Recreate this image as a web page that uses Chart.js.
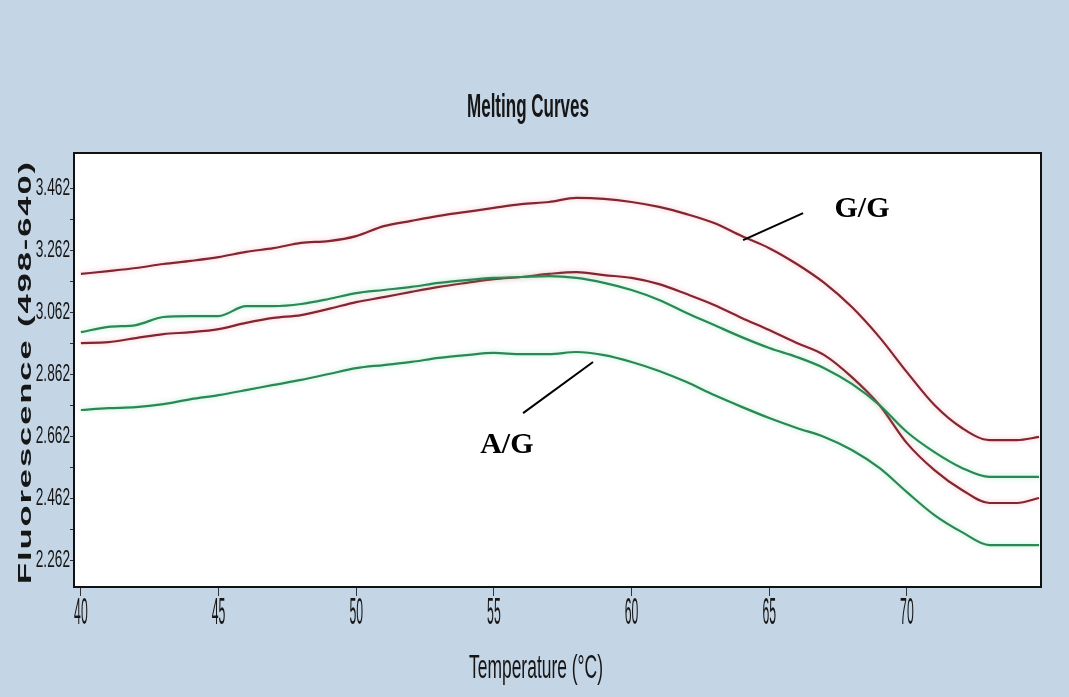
<!DOCTYPE html>
<html>
<head>
<meta charset="utf-8">
<title>Melting Curves</title>
<script src="https://cdn.jsdelivr.net/npm/chart.js@4.4.1/dist/chart.umd.min.js"></script>
<style>
  html, body { margin: 0; padding: 0; background: #c4d5e6; }
  #chart { display: block; }
</style>
</head>
<body>
<canvas id="chart" width="1069" height="697"></canvas>
<script>
/* ============================================================
   Melting curves — two G/G (red) and two A/G (green) traces.
   Labels are drawn squeezed, like the instrument's narrow font.
   ============================================================ */

// temperature (°C) each value was read at
const temps = [40, 41, 42, 43, 44, 45, 46, 47, 48, 49, 50, 51, 52, 53, 54, 55, 56, 57,
  58, 59, 60, 61, 62, 63, 64, 65, 66, 67, 68, 69, 70, 71, 72, 73, 74, 74.8];

const ggHigh = [3.185, 3.194, 3.204, 3.217, 3.227, 3.239, 3.256, 3.268, 3.285, 3.291, 3.307, 3.339,
  3.356, 3.372, 3.385, 3.398, 3.410, 3.417, 3.430, 3.427, 3.417, 3.401, 3.378, 3.349, 3.307, 3.268,
  3.217, 3.156, 3.078, 2.981, 2.868, 2.762, 2.688, 2.649, 2.649, 2.659];
const agHigh = [2.997, 3.014, 3.020, 3.046, 3.049, 3.049, 3.081, 3.081, 3.088, 3.104, 3.123, 3.133,
  3.143, 3.156, 3.165, 3.172, 3.175, 3.178, 3.172, 3.156, 3.133, 3.101, 3.059, 3.020, 2.981, 2.946,
  2.917, 2.881, 2.830, 2.762, 2.675, 2.610, 2.559, 2.530, 2.530, 2.530];
const ggLow = [2.962, 2.965, 2.978, 2.991, 2.997, 3.007, 3.027, 3.043, 3.052, 3.072, 3.094, 3.110,
  3.127, 3.143, 3.156, 3.168, 3.175, 3.185, 3.191, 3.181, 3.172, 3.152, 3.120, 3.085, 3.043, 3.004,
  2.962, 2.923, 2.852, 2.762, 2.639, 2.552, 2.488, 2.446, 2.446, 2.462];
const agLow = [2.746, 2.752, 2.755, 2.765, 2.781, 2.794, 2.810, 2.827, 2.843, 2.862, 2.881, 2.891,
  2.901, 2.914, 2.923, 2.930, 2.926, 2.926, 2.933, 2.923, 2.901, 2.872, 2.836, 2.794, 2.756, 2.720,
  2.688, 2.659, 2.617, 2.559, 2.481, 2.407, 2.352, 2.310, 2.310, 2.310];

const xTicks = [40, 45, 50, 55, 60, 65, 70];
const yTicks = [2.262, 2.462, 2.662, 2.862, 3.062, 3.262, 3.462];

// genotype call-outs, in data units: label centre, pointer start, pointer end
const callouts = [
  { text: 'G/G', at: [68.37, 3.394], from: [64.05, 3.294], to: [66.23, 3.381] },
  { text: 'A/G', at: [55.47, 2.633], from: [56.06, 2.736], to: [58.60, 2.901] },
];

const RED = '#82262f';
const GREEN = '#2b8753';
const BG = '#c4d5e6';
const INK = '#161616';

function series(values) {
  return values.map((v, i) => ({ x: temps[i], y: v }));
}

function lineSet(label, values, color, glow) {
  return {
    label: label,
    data: series(values),
    borderColor: color,
    backgroundColor: color,
    borderWidth: 2.2,
    pointRadius: 0,
    cubicInterpolationMode: 'monotone',
    glow: glow,
  };
}

/** fillText with a horizontal squeeze factor. */
function squeezed(ctx, text, x, y, font, sx, align, baseline) {
  ctx.save();
  ctx.font = font;
  ctx.fillStyle = INK;
  ctx.textAlign = align;
  ctx.textBaseline = baseline || 'alphabetic';
  ctx.translate(x, y);
  ctx.scale(sx, 1);
  ctx.fillText(text, 0, 0);
  ctx.restore();
}

/** Squeeze text so it spans exactly `width` px. */
function fitted(ctx, text, x, y, font, width, baseline) {
  ctx.save();
  ctx.font = font;
  const w = ctx.measureText(text).width;
  ctx.restore();
  squeezed(ctx, text, x, y, font, width / w, 'center', baseline);
}

const chromePlugin = {
  id: 'chrome',
  beforeDraw(chart) {
    const { ctx, chartArea: a } = chart;
    ctx.save();
    ctx.fillStyle = BG;
    ctx.fillRect(0, 0, chart.width, chart.height);
    ctx.fillStyle = '#ffffff';
    ctx.fillRect(a.left, a.top, a.right - a.left, a.bottom - a.top);
    ctx.restore();
  },
  beforeDatasetDraw(chart, args) {
    const ds = chart.data.datasets[args.index];
    chart.ctx.save();
    chart.ctx.shadowColor = ds.glow;
    chart.ctx.shadowBlur = 5;
  },
  afterDatasetDraw(chart) {
    chart.ctx.restore();
  },
  afterDraw(chart) {
    const { ctx, chartArea: a } = chart;
    const xs = chart.scales.x;
    const ys = chart.scales.y;

    // plot frame
    ctx.save();
    ctx.strokeStyle = '#111';
    ctx.lineWidth = 2;
    ctx.strokeRect(a.left, a.top, a.right - a.left, a.bottom - a.top);
    ctx.restore();

    // tick labels
    yTicks.forEach((v) => {
      squeezed(ctx, v.toFixed(3), a.left - 4, ys.getPixelForValue(v), '24px "Liberation Sans"', 0.57, 'right', 'middle');
    });
    xTicks.forEach((v) => {
      squeezed(ctx, String(v), xs.getPixelForValue(v), a.bottom + 37, '36px "Liberation Sans"', 0.34, 'center');
    });

    // titles
    fitted(ctx, 'Melting Curves', 528, 117, 'bold 33px "Liberation Sans"', 122);
    fitted(ctx, 'Temperature (°C)', 536, 678, '33px "Liberation Sans"', 134);

    ctx.save();
    ctx.translate(26, 372);
    ctx.rotate(-Math.PI / 2);
    ctx.font = 'bold 18px "Liberation Sans"';
    ctx.letterSpacing = '1px';
    const yw = ctx.measureText('Fluorescence (498-640)').width;
    ctx.scale(424 / yw, 1);
    ctx.fillStyle = INK;
    ctx.textAlign = 'center';
    ctx.textBaseline = 'middle';
    ctx.fillText('Fluorescence (498-640)', 0, 0);
    ctx.restore();

    // call-outs
    callouts.forEach((c) => {
      ctx.save();
      ctx.strokeStyle = '#000';
      ctx.lineWidth = 2;
      ctx.beginPath();
      ctx.moveTo(xs.getPixelForValue(c.from[0]), ys.getPixelForValue(c.from[1]));
      ctx.lineTo(xs.getPixelForValue(c.to[0]), ys.getPixelForValue(c.to[1]));
      ctx.stroke();
      ctx.font = 'bold 30px "Liberation Serif"';
      ctx.fillStyle = '#000';
      ctx.textAlign = 'center';
      ctx.textBaseline = 'middle';
      ctx.fillText(c.text, xs.getPixelForValue(c.at[0]), ys.getPixelForValue(c.at[1]));
      ctx.restore();
    });
  },
};

new Chart(document.getElementById('chart'), {
  type: 'line',
  data: {
    datasets: [
      lineSet('G/G 1', ggHigh, RED, 'rgba(240,120,140,0.5)'),
      lineSet('A/G 1', agHigh, GREEN, 'rgba(90,220,150,0.5)'),
      lineSet('G/G 2', ggLow, RED, 'rgba(240,120,140,0.5)'),
      lineSet('A/G 2', agLow, GREEN, 'rgba(90,220,150,0.5)'),
    ],
  },
  options: {
    responsive: false,
    animation: false,
    layout: { padding: { top: 153, right: 28, bottom: 0, left: 0 } },
    plugins: { legend: { display: false }, tooltip: { enabled: false } },
    scales: {
      x: {
        type: 'linear',
        min: 39.75,
        max: 74.87,
        afterBuildTicks: (s) => { s.ticks = xTicks.map((v) => ({ value: v })); },
        afterFit: (s) => { s.height = 110; },
        ticks: { display: false },
        grid: { drawOnChartArea: false, drawTicks: true, tickLength: 9, color: '#333' },
        border: { display: false },
      },
      y: {
        type: 'linear',
        min: 2.175,
        max: 3.575,
        afterBuildTicks: (s) => {
          const minor = yTicks.slice(1).map((v, i) => (v + yTicks[i]) / 2);
          s.ticks = yTicks.concat(minor).map((v) => ({ value: v }));
        },
        afterFit: (s) => { s.width = 74; },
        ticks: { display: false },
        grid: { drawOnChartArea: false, drawTicks: true, tickLength: 4, color: '#333' },
        border: { display: false },
      },
    },
  },
  plugins: [chromePlugin],
});
</script>
</body>
</html>
